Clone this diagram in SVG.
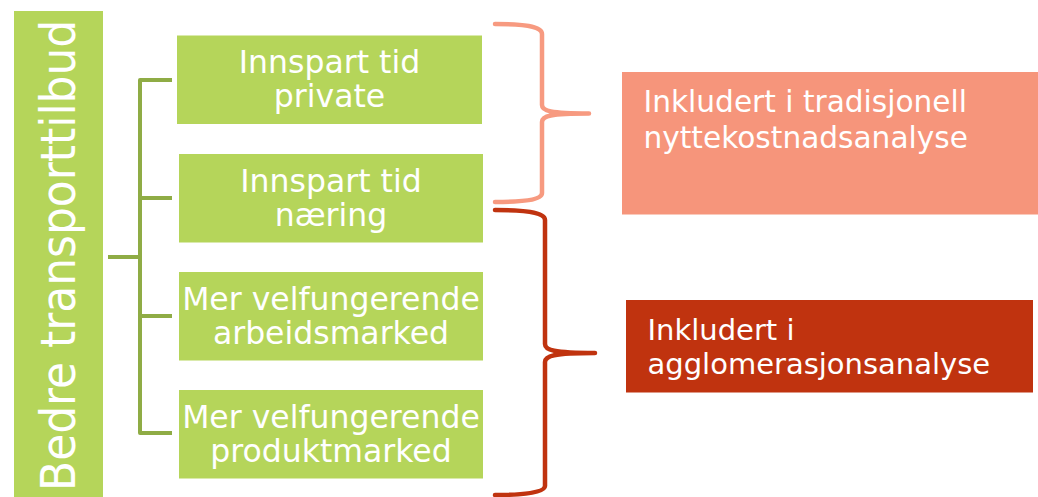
<svg xmlns="http://www.w3.org/2000/svg" width="1038" height="497" viewBox="0 0 1038 497">
<style>
.g{fill:#b5d55a}
.t{font-family:"DejaVu Sans",Verdana,sans-serif;fill:#ffffff}
.c{font-size:31.5px;text-anchor:middle}
.r{font-size:29.6px}
.tree{fill:none;stroke:#8fac45;stroke-width:4;stroke-linejoin:round}
.br{fill:none;stroke-width:4.5;stroke-linecap:round;stroke-linejoin:round}
</style>
<rect width="1038" height="497" fill="#ffffff"/>
<g id="root">
<rect class="g" x="14" y="11" width="89" height="486"/>
<text class="t" transform="translate(75,491) rotate(-90) scale(0.915,1)" font-size="48">Bedre transporttilbud</text>
</g>
<g id="connectors">
<path class="tree" d="M108,257 H140 M172,80 H140 V433 H172 M140,198 H172 M140,316 H172"/>
<path class="br" stroke="#f79a80" d="M495,24 C522,24 542,26 542,34 L542,105 C542,111 550,113.5 589,113.5 C550,113.5 542,116 542,122 L542,193 C542,200 522,202 495,202"/>
<path class="br" stroke="#c0330f" d="M495,210 C522,210 545,212 545,220 L545,344 C545,350 553,353 595,353 C553,353 545,356 545,362 L545,486 C545,493 522,495 495,495"/>
</g>
<g id="n1">
<rect class="g" x="177" y="35.5" width="305" height="88.5"/>
<text class="t c" x="329.5" y="73">Innspart tid</text>
<text class="t c" x="329.5" y="107">private</text>
</g>
<g id="n2">
<rect class="g" x="179" y="154" width="304" height="88.5"/>
<text class="t c" x="331" y="191.5">Innspart tid</text>
<text class="t c" x="331" y="225.5">næring</text>
</g>
<g id="n3">
<rect class="g" x="179" y="272" width="304" height="88.5"/>
<text class="t c" x="331" y="310">Mer velfungerende</text>
<text class="t c" x="331" y="343.5">arbeidsmarked</text>
</g>
<g id="n4">
<rect class="g" x="179" y="390" width="304" height="88.5"/>
<text class="t c" x="331" y="428">Mer velfungerende</text>
<text class="t c" x="331" y="461.5">produktmarked</text>
</g>
<g id="s1">
<rect x="622" y="72" width="416" height="142.5" fill="#f6957b"/>
<text class="t r" x="643.5" y="111.5">Inkludert i tradisjonell</text>
<text class="t r" x="643.5" y="148">nyttekostnadsanalyse</text>
</g>
<g id="s2">
<rect x="626" y="300" width="407" height="92.5" fill="#c0330f"/>
<text class="t r" x="647.5" y="339.5" style="font-size:29px">Inkludert i</text>
<text class="t r" x="647.5" y="374" style="font-size:29px">agglomerasjonsanalyse</text>
</g>
</svg>
